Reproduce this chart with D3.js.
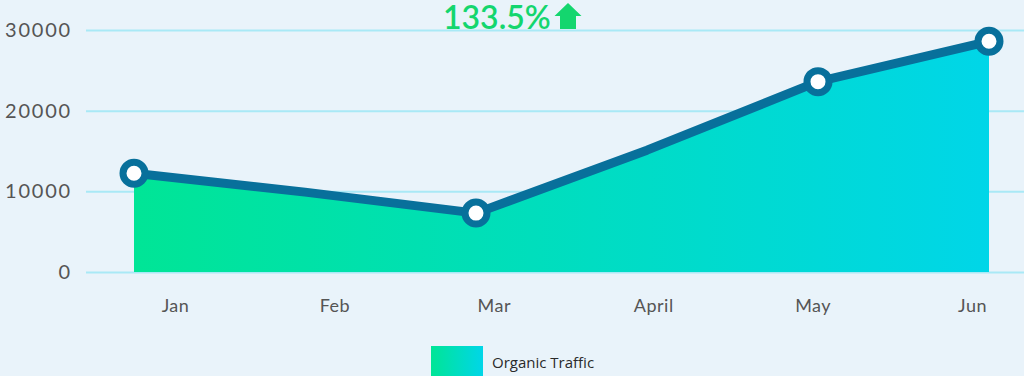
<!DOCTYPE html>
<html>
<head>
<meta charset="utf-8">
<script src="https://cdn.jsdelivr.net/npm/d3@7"></script>
<style>
  html, body { margin: 0; padding: 0; background: #e9f3fa; }
  svg { display: block; }
</style>
</head>
<body>
<div id="chart"></div>
<script>
var w = 1024;
var h = 376;

var months = ["Jan", "Feb", "Mar", "April", "May", "Jun"];
var traffic = [12250, 9900, 7300, 15100, 23600, 28600];
var markedMonths = ["Jan", "Mar", "May", "Jun"];
var yTicks = [0, 10000, 20000, 30000];
var growthLabel = "133.5%";
var seriesName = "Organic Traffic";

var data = months.map(function(m, i) { return {month: m, value: traffic[i]}; });

var svg = d3.select("#chart")
            .append("svg")
            .attr("width", w)
            .attr("height", h);

var defs = svg.append("defs");
var grad = defs.append("linearGradient")
            .attr("id", "areaGrad")
            .attr("x1", "0%").attr("x2", "100%")
            .attr("y1", "0%").attr("y2", "0%");
grad.append("stop").attr("offset", "0%").attr("stop-color", "#00e596");
grad.append("stop").attr("offset", "100%").attr("stop-color", "#00d6e8");

var y = d3.scaleLinear()
            .domain([0, 30000])
            .range([272, 30]);

// points and labels sit on slightly different positions in the original
var x = d3.scalePoint()
            .domain(months)
            .range([134, 989]);

var xLabel = d3.scalePoint()
            .domain(months)
            .range([175, 972]);

// gridlines
var yAxis = d3.axisLeft(y)
            .tickValues(yTicks)
            .tickSize(-938)
            .tickPadding(14)
            .tickFormat(d3.format("d"));

var gy = svg.append("g")
            .attr("transform", "translate(86,0)")
            .call(yAxis);
gy.select(".domain").remove();
gy.selectAll(".tick line")
    .attr("stroke", "#a9e9f6")
    .attr("stroke-width", 2);
gy.selectAll(".tick text")
    .attr("fill", "#555")
    .attr("font-family", "Lato, sans-serif")
    .attr("font-size", 20)
    .attr("letter-spacing", 1.8)
    .attr("dy", "0.32em");

// area + line
var area = d3.area()
            .x(function(d) { return x(d.month); })
            .y0(y(0))
            .y1(function(d) { return y(d.value); });

var line = d3.line()
            .x(function(d) { return x(d.month); })
            .y(function(d) { return y(d.value); });

svg.append("path")
    .datum(data)
    .attr("fill", "url(#areaGrad)")
    .attr("d", area);

svg.append("path")
    .datum(data)
    .attr("fill", "none")
    .attr("stroke", "#08709b")
    .attr("stroke-width", 9)
    .attr("stroke-linejoin", "round")
    .attr("d", line);

svg.selectAll("circle.dot")
    .data(data.filter(function(d) { return markedMonths.indexOf(d.month) >= 0; }))
    .enter()
    .append("circle")
    .attr("class", "dot")
    .attr("cx", function(d) { return x(d.month); })
    .attr("cy", function(d) { return y(d.value); })
    .attr("r", 11)
    .attr("fill", "#fff")
    .attr("stroke", "#08709b")
    .attr("stroke-width", 7);

// month labels
var xAxis = d3.axisBottom(xLabel).tickSize(0).tickPadding(0);
var gx = svg.append("g")
            .attr("transform", "translate(0,299)")
            .call(xAxis);
gx.select(".domain").remove();
gx.selectAll(".tick text")
    .attr("fill", "#555")
    .attr("font-family", "Lato, sans-serif")
    .attr("font-size", 18)
    .attr("letter-spacing", 0.5);

// growth label with arrow
var head = svg.append("g");
head.append("text")
    .attr("x", 443)
    .attr("y", 29)
    .attr("fill", "#14d66e")
    .attr("font-family", "Lato, sans-serif")
    .attr("font-weight", 600)
    .attr("font-size", 32)
    .text(growthLabel);
head.append("path")
    .attr("transform", "translate(568,3)")
    .attr("fill", "#14d66e")
    .attr("d", "M0,0 L13.5,13 L8,13 L8,26 L-8,26 L-8,13 L-13.5,13 Z");

// legend
svg.append("rect")
    .attr("x", 431)
    .attr("y", 346)
    .attr("width", 52)
    .attr("height", 32)
    .attr("fill", "url(#areaGrad)");
svg.append("text")
    .attr("x", 492)
    .attr("y", 368)
    .attr("fill", "#2a2a2a")
    .attr("font-family", "'Open Sans', sans-serif")
    .attr("font-size", 15)
    .text(seriesName);
</script>
</body>
</html>
